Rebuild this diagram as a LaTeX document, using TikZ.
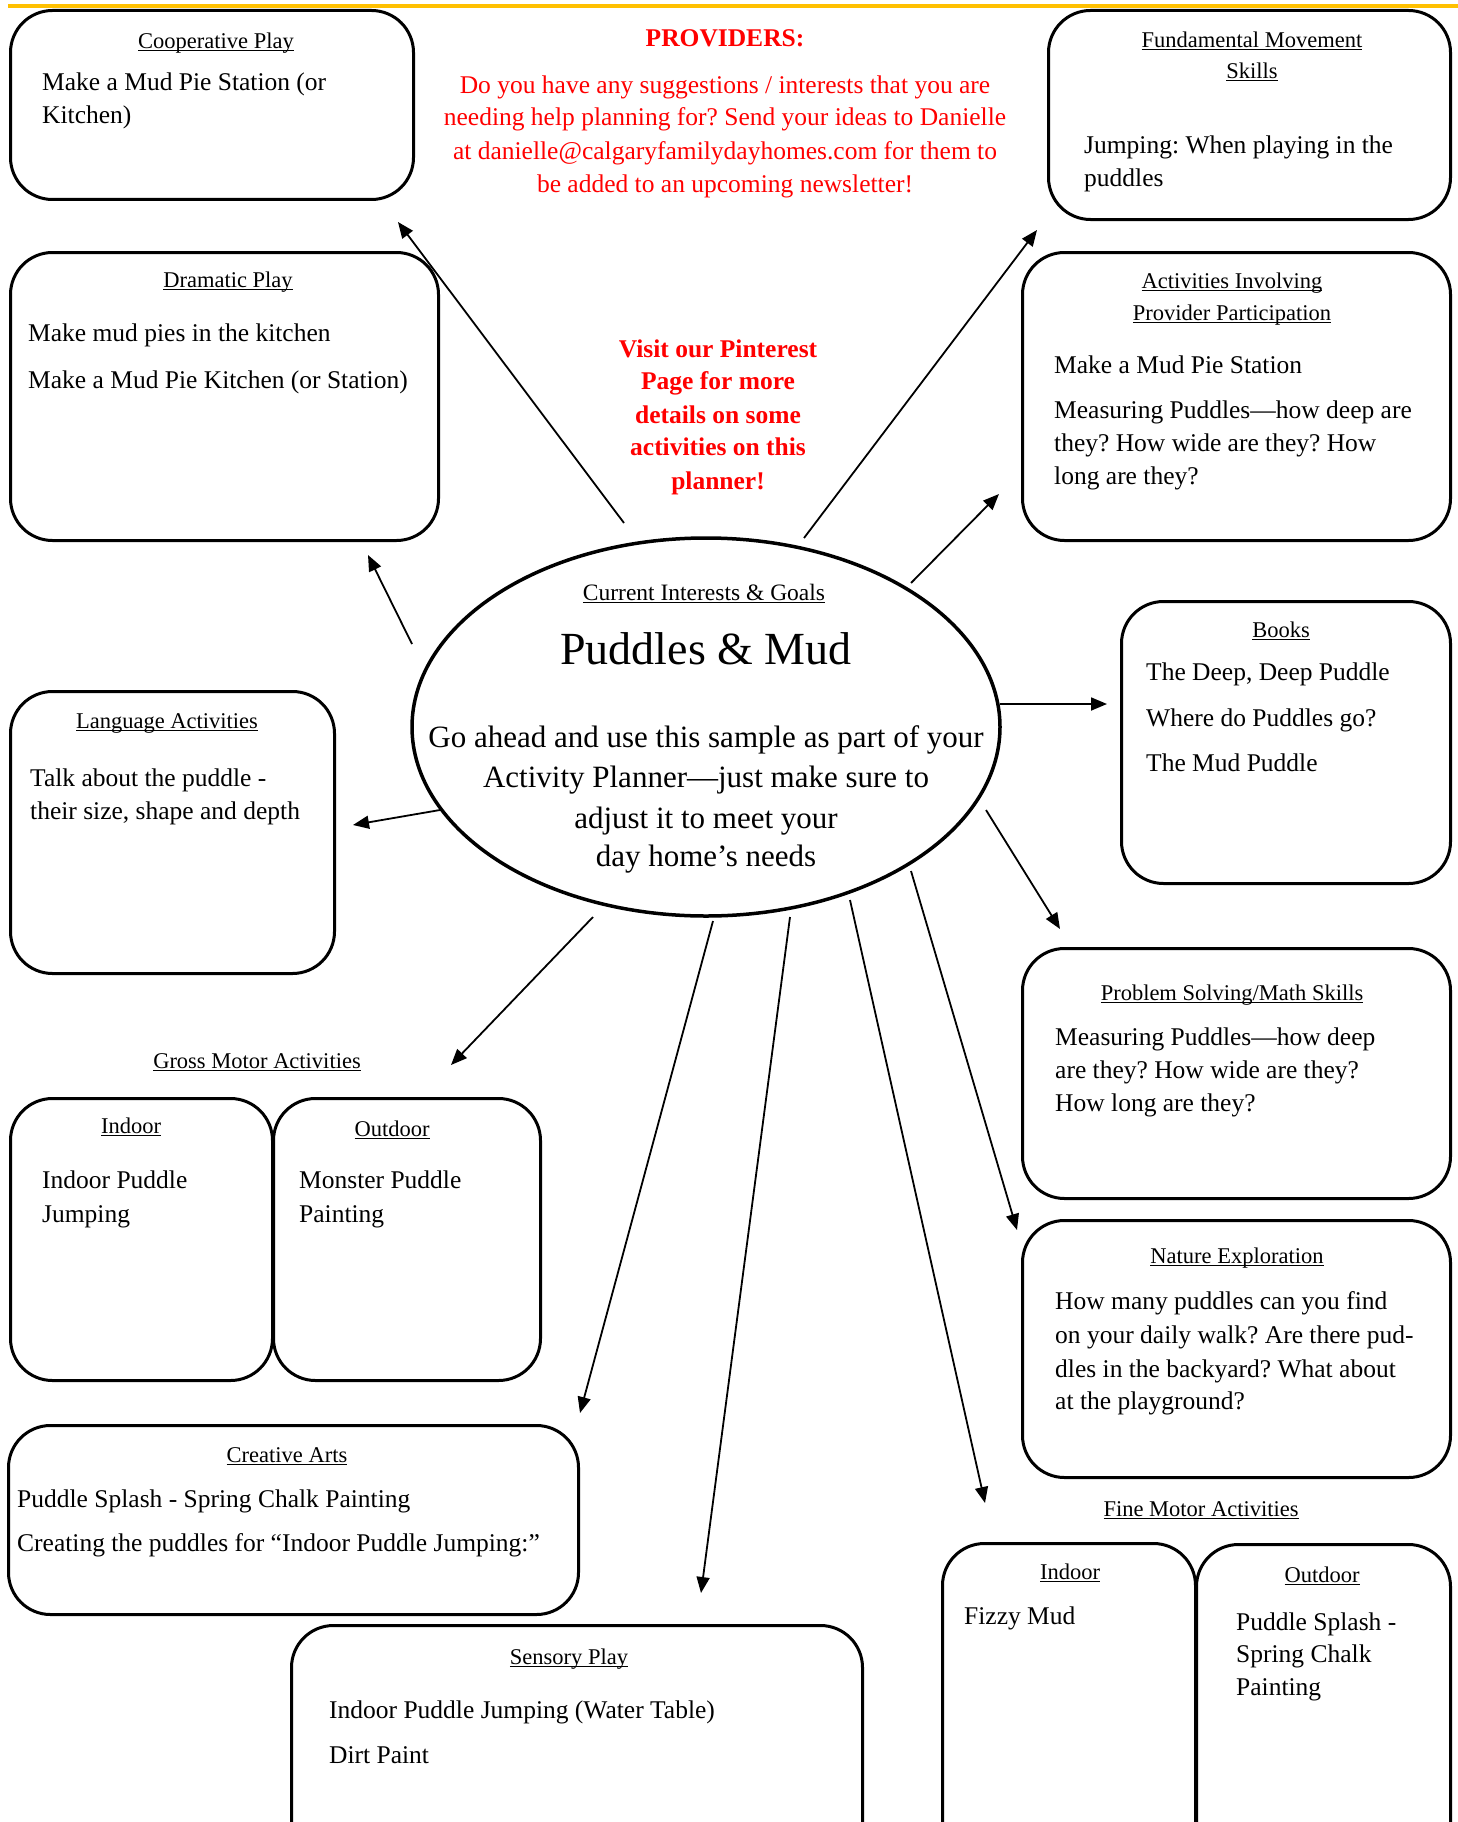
\documentclass[tikz,border=0pt]{standalone}
\usepackage{fontspec}
\setmainfont{Liberation Serif}
\usetikzlibrary{shapes.geometric,arrows.meta}
\definecolor{gold}{HTML}{FFC000}
\definecolor{provred}{HTML}{FF0000}
\newcommand\myul[1]{\begingroup\setbox0\hbox{#1}\rlap{\rule[-0.13em]{\wd0}{0.065em}}\box0\endgroup}
\frenchspacing
\tikzset{
 box/.style={draw, line width=3pt, rounded corners=42pt, anchor=north west, inner sep=0pt},
 ttl/.style={font=\fontsize{22.5}{26}\selectfont\frenchspacing, anchor=mid, inner sep=0pt, yshift=-5pt},
 txt/.style={font=\fontsize{25.5}{30}\selectfont\frenchspacing, anchor=mid west, inner sep=0pt, yshift=-6pt},
 ptxt/.style={font=\fontsize{25.5}{30}\selectfont\frenchspacing, anchor=mid, inner sep=0pt, text=provred, yshift=-6pt},
 pbold/.style={font=\fontsize{25.5}{30}\selectfont\bfseries\frenchspacing, anchor=mid, inner sep=0pt, text=provred, yshift=-6pt},
 etxt/.style={font=\fontsize{31}{36}\selectfont\frenchspacing, anchor=mid, inner sep=0pt, yshift=-8pt},
 arr/.style={line width=1.8pt, -{Triangle[length=16pt,width=13pt]}},
}
\begin{document}
\begin{tikzpicture}[x=1pt,y=-1pt]
\useasboundingbox (0,0) rectangle (1458,1822);
\clip (0,0) rectangle (1458,1822);
\draw[line width=4.5pt, gold] (8,6) -- (1458,6);

% boxes
\node[box, minimum width=403pt, minimum height=189pt] (coop) at (9,9) {};
\node[box, minimum width=428pt, minimum height=288pt] (dram) at (9,251) {};
\node[box, minimum width=324pt, minimum height=282pt] (lang) at (9,690) {};
\node[box, minimum width=262pt, minimum height=282pt] (gmin) at (9,1097) {};
\node[box, minimum width=267pt, minimum height=282pt] (gmout) at (272,1097) {};
\node[box, minimum width=570pt, minimum height=189pt] (creat) at (7,1424) {};
\node[box, minimum width=571pt, minimum height=280pt] (sens) at (290,1624) {};
\node[box, minimum width=253pt, minimum height=340pt] (fmin) at (941,1542) {};
\node[box, minimum width=254pt, minimum height=340pt] (fmout) at (1195,1543) {};
\node[box, minimum width=428pt, minimum height=257pt] (nat) at (1021,1219) {};
\node[box, minimum width=428pt, minimum height=250pt] (prob) at (1021,947) {};
\node[box, minimum width=329pt, minimum height=282pt] (books) at (1120,600) {};
\node[box, minimum width=428pt, minimum height=288pt] (act) at (1021,251) {};
\node[box, minimum width=402pt, minimum height=209pt] (fund) at (1047,9) {};

% centre ellipse
\node[draw, ellipse, line width=3.5pt, minimum width=588pt, minimum height=378pt, inner sep=0pt] (ell) at (706,727) {};

% arrows
\coordinate (a1s) at (624,523); \coordinate (a1e) at (398,222);
\coordinate (a2s) at (412,644); \coordinate (a2e) at (368,555);
\coordinate (a3s) at (440,810); \coordinate (a3e) at (353,825);
\coordinate (a4s) at (593,917); \coordinate (a4e) at (451,1065);
\coordinate (a5s) at (713,921); \coordinate (a5e) at (580,1413);
\coordinate (a6s) at (790,917); \coordinate (a6e) at (701,1593);
\coordinate (a7s) at (850,900); \coordinate (a7e) at (985,1503);
\coordinate (a8s) at (911,871); \coordinate (a8e) at (1017,1230);
\coordinate (a9s) at (986,810); \coordinate (a9e) at (1060,929);
\coordinate (a10s) at (1000,704); \coordinate (a10e) at (1107,704);
\coordinate (a11s) at (911,583); \coordinate (a11e) at (999,494);
\coordinate (a12s) at (804,538); \coordinate (a12e) at (1037,230);
\foreach \i in {1,...,12} \draw[arr] (a\i s) -- (a\i e);

% Cooperative Play
\node[ttl] (coopt) at (216,41) {\myul{Cooperative Play}};
\node[txt] (coop1) at (42,82) {Make a Mud Pie Station (or};
\node[txt] (coop2) at (42,115) {Kitchen)};
% Dramatic Play
\node[ttl] (dramt) at (228,280) {\myul{Dramatic Play}};
\node[txt] (dram1) at (28,333) {Make mud pies in the kitchen};
\node[txt] (dram2) at (28,380) {Make a Mud Pie Kitchen (or Station)};
% Language
\node[ttl] (langt) at (167,721) {\myul{Language Activities}};
\node[txt] (lang1) at (30,778) {Talk about the puddle -};
\node[txt] (lang2) at (30,811) {their size, shape and depth};
% Gross motor
\node[ttl] (gml) at (257,1061) {\myul{Gross Motor Activities}};
\node[ttl] (gmint) at (131,1126) {\myul{Indoor}};
\node[txt] (gmin1) at (42,1180) {Indoor Puddle};
\node[txt] (gmin2) at (42,1214) {Jumping};
\node[ttl] (gmoutt) at (392,1129) {\myul{Outdoor}};
\node[txt] (gmout1) at (299,1180) {Monster Puddle};
\node[txt] (gmout2) at (299,1214) {Painting};
% Creative Arts
\node[ttl] (creatt) at (287,1455) {\myul{Creative Arts}};
\node[txt] (creat1) at (17,1499) {Puddle Splash - Spring Chalk Painting};
\node[txt] (creat2) at (17,1543) {Creating the puddles for “Indoor Puddle Jumping:”};
% Sensory Play
\node[ttl] (senst) at (569,1657) {\myul{Sensory Play}};
\node[txt] (sens1) at (329,1710) {Indoor Puddle Jumping (Water Table)};
\node[txt] (sens2) at (329,1755) {Dirt Paint};
% Fine motor
\node[ttl] (fml) at (1201,1509) {\myul{Fine Motor Activities}};
\node[ttl] (fmint) at (1070,1572) {\myul{Indoor}};
\node[txt] (fmin1) at (964,1616) {Fizzy Mud};
\node[ttl] (fmoutt) at (1322,1575) {\myul{Outdoor}};
\node[txt] (fmout1) at (1236,1622) {Puddle Splash -};
\node[txt] (fmout2) at (1236,1654) {Spring Chalk};
\node[txt] (fmout3) at (1236,1687) {Painting};
% Nature
\node[ttl] (natt) at (1237,1256) {\myul{Nature Exploration}};
\node[txt] (nat1) at (1055,1301) {How many puddles can you find};
\node[txt] (nat2) at (1055,1335) {on your daily walk? Are there pud-};
\node[txt] (nat3) at (1055,1369) {dles in the backyard? What about};
\node[txt] (nat4) at (1055,1401) {at the playground?};
% Problem solving
\node[ttl] (probt) at (1232,993) {\myul{Problem Solving/Math Skills}};
\node[txt] (prob1) at (1055,1037) {Measuring Puddles—how deep};
\node[txt] (prob2) at (1055,1070) {are they? How wide are they?};
\node[txt] (prob3) at (1055,1103) {How long are they?};
% Books
\node[ttl] (bookst) at (1281,630) {\myul{Books}};
\node[txt] (books1) at (1146,672) {The Deep, Deep Puddle};
\node[txt] (books2) at (1146,718) {Where do Puddles go?};
\node[txt] (books3) at (1146,763) {The Mud Puddle};
% Activities involving
\node[ttl] (actt1) at (1232,281) {\myul{Activities Involving}};
\node[ttl] (actt2) at (1232,313) {\myul{Provider Participation}};
\node[txt] (act1) at (1054,365) {Make a Mud Pie Station};
\node[txt] (act2) at (1054,410) {Measuring Puddles—how deep are};
\node[txt] (act3) at (1054,443) {they? How wide are they? How};
\node[txt] (act4) at (1054,476) {long are they?};
% Fundamental
\node[ttl] (fundt1) at (1252,40) {\myul{Fundamental Movement}};
\node[ttl] (fundt2) at (1252,71) {\myul{Skills}};
\node[txt] (fund1) at (1084,145) {Jumping: When playing in the};
\node[txt] (fund2) at (1084,178) {puddles};
% Providers
\node[pbold] (prov0) at (725,38) {PROVIDERS:};
\node[ptxt] (prov1) at (725,85) {Do you have any suggestions / interests that you are};
\node[ptxt] (prov2) at (725,117) {needing help planning for? Send your ideas to Danielle};
\node[ptxt] (prov3) at (725,151) {at danielle@calgaryfamilydayhomes.com for them to};
\node[ptxt] (prov4) at (725,184) {be added to an upcoming newsletter!};
% Pinterest
\node[pbold] (pin1) at (718,349) {Visit our Pinterest};
\node[pbold] (pin2) at (718,381) {Page for more};
\node[pbold] (pin3) at (718,415) {details on some};
\node[pbold] (pin4) at (718,447) {activities on this};
\node[pbold] (pin5) at (718,481) {planner!};
% Ellipse text
\node[ttl, font=\fontsize{23.5}{28}\selectfont] (ellt) at (704,593) {\myul{Current Interests \& Goals}};
\node[ttl, font=\fontsize{46}{52}\selectfont, yshift=-9pt] (ellh) at (706,648) {Puddles \& Mud};
\node[etxt] (ell1) at (706,737) {Go ahead and use this sample as part of your};
\node[etxt] (ell2) at (706,777) {Activity Planner—just make sure to};
\node[etxt] (ell3) at (706,818) {adjust it to meet your};
\node[etxt] (ell4) at (706,856) {day home’s needs};
\end{tikzpicture}
\end{document}
